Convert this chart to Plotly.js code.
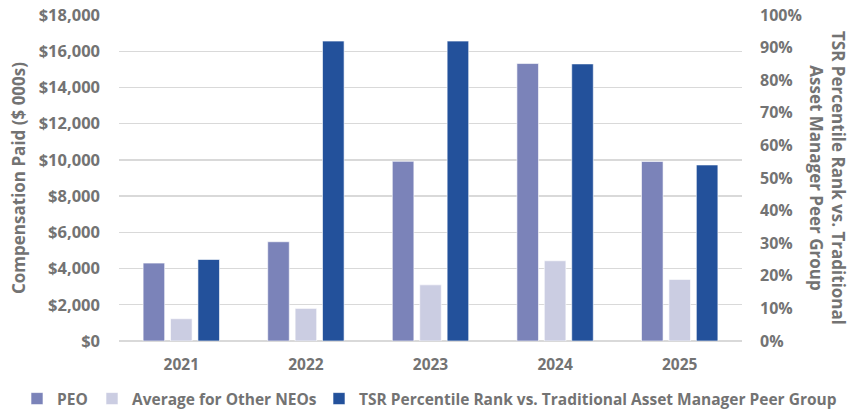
<!DOCTYPE html>
<html>
<head>
<meta charset="utf-8">
<script src="https://cdn.plot.ly/plotly-3.0.1.min.js"></script>
<style>
  html, body { margin: 0; padding: 0; background: #ffffff; }
  #chart { width: 852px; height: 411px; }
</style>
</head>
<body>
<div id="chart"></div>
<script>
// Fiscal years on the category axis
const years = ['2021', '2022', '2023', '2024', '2025'];

// Compensation actually paid, $ thousands (left axis)
const peoPaid = [4300, 5480, 9920, 15320, 9910];
const otherNeoPaid = [1230, 1800, 3100, 4430, 3400];

// TSR percentile rank vs. traditional asset manager peers (right axis)
const tsrRank = [0.25, 0.92, 0.92, 0.85, 0.54];

const seriesNames = [
  'PEO',
  'Average for Other NEOs',
  'TSR Percentile Rank vs. Traditional Asset Manager Peer Group'
];

const textGray = '#737373';
const family = '"Open Sans", sans-serif';
const font = (size) => ({ family: family, size: size, color: textGray, weight: 700 });

const barWidth = 0.173;
const barStep = 0.22;
const outline = { color: 'rgba(255,255,255,0.6)', width: 1 };

const traces = [
  {
    type: 'bar', name: seriesNames[0], x: years, y: peoPaid, yaxis: 'y',
    width: barWidth, offset: -barStep - barWidth / 2,
    marker: { color: '#7b83b9', line: outline },
    legend: 'legend', hoverinfo: 'skip'
  },
  {
    type: 'bar', name: seriesNames[1], x: years, y: otherNeoPaid, yaxis: 'y',
    width: barWidth, offset: -barWidth / 2,
    marker: { color: '#cbcde2', line: outline },
    legend: 'legend2', hoverinfo: 'skip'
  },
  {
    type: 'bar', name: seriesNames[2], x: years, y: tsrRank, yaxis: 'y2',
    width: barWidth, offset: barStep - barWidth / 2,
    marker: { color: '#23519b', line: outline },
    legend: 'legend3', hoverinfo: 'skip'
  }
];

// One single-entry legend per series so the row can span the full width
const legendAt = (xPx) => ({
  orientation: 'h',
  xref: 'container', x: xPx / 852, xanchor: 'left',
  yref: 'container', y: 12 / 411, yanchor: 'middle',
  font: font(15.5),
  itemwidth: 30,
  bgcolor: 'rgba(0,0,0,0)'
});

const layout = {
  width: 852, height: 411,
  margin: { l: 119, r: 110, t: 15, b: 70, autoexpand: false },
  paper_bgcolor: '#ffffff', plot_bgcolor: '#ffffff',
  font: font(15),
  barmode: 'overlay',
  showlegend: true,
  xaxis: {
    type: 'category',
    showgrid: false, zeroline: false, showline: false,
    ticks: '', ticklabelstandoff: 12,
    tickfont: font(15.5)
  },
  yaxis: {
    range: [0, 18000], dtick: 2000,
    tickprefix: '$', tickformat: ',d',
    showgrid: true, gridcolor: '#d9d9d9', gridwidth: 1.3,
    zeroline: true, zerolinecolor: '#d9d9d9', zerolinewidth: 1.3,
    showline: false, ticks: '', ticklabelstandoff: 18,
    tickfont: font(16.5),
    title: { text: 'Compensation Paid ($ 000s)', font: font(17), standoff: 8 }
  },
  yaxis2: {
    overlaying: 'y', side: 'right',
    range: [0, 1], dtick: 0.1, tickformat: '.0%',
    showgrid: false, zeroline: false, showline: false,
    ticks: '', ticklabelstandoff: 17,
    tickfont: font(16)
  },
  legend: legendAt(17),
  legend2: legendAt(92),
  legend3: legendAt(319),
  annotations: [
    {
      text: 'TSR Percentile Rank vs. Traditional<br>Asset Manager Peer Group',
      xref: 'paper', yref: 'paper',
      x: 1.138, y: 0.5, xanchor: 'center', yanchor: 'middle',
      textangle: 90, showarrow: false,
      font: font(17)
    }
  ]
};

Plotly.newPlot('chart', traces, layout, { staticPlot: true, displayModeBar: false });
</script>
</body>
</html>
